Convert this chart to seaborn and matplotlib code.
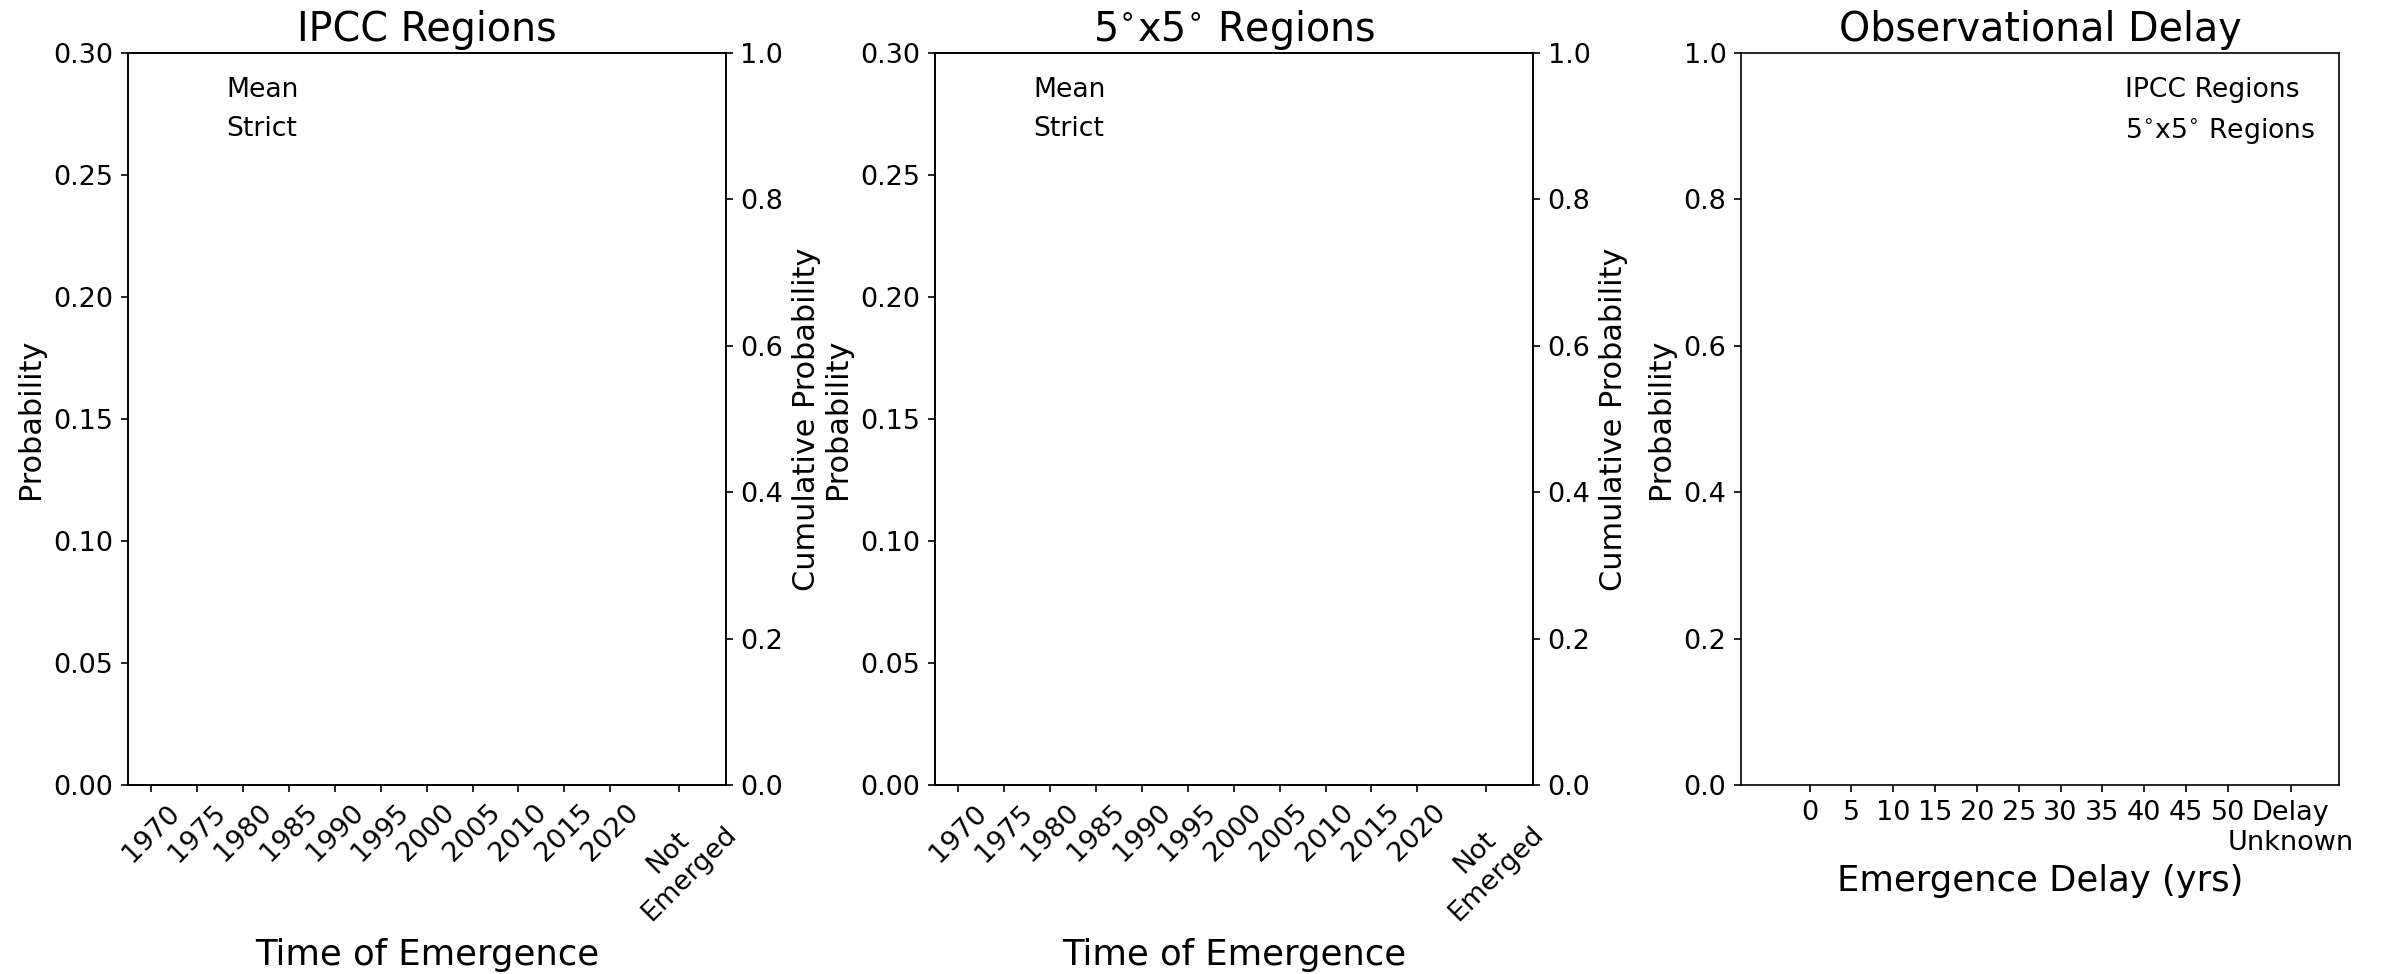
import numpy as np
import pandas as pd
import matplotlib
matplotlib.use("Agg")
import matplotlib.pyplot as plt
from matplotlib.lines import Line2D
import seaborn as sns

# ---- data (the reference panels contain no drawn marks) ----
toe_years = [1970, 1975, 1980, 1985, 1990, 1995, 2000, 2005, 2010, 2015, 2020]
toe_not_emerged_pos = 2027.5
toe_labels = [str(y) for y in toe_years] + ["Not\nEmerged"]
delay_years = [0, 5, 10, 15, 20, 25, 30, 35, 40, 45, 50]
delay_unknown_pos = 57.5
delay_labels = [str(d) for d in delay_years] + ["Delay\nUnknown"]
toe_series = ["Mean", "Strict"]
delay_series = ["IPCC Regions", r"5$^{\circ}$x5$^{\circ}$ Regions"]
panel_titles = ["IPCC Regions", r"5$^{\circ}$x5$^{\circ}$ Regions", "Observational Delay"]
mean_values = []      # no visible bars in the reference
strict_values = []
ipcc_delay_values = []
grid_delay_values = []

sns.set_theme(style="ticks", rc={
    "axes.edgecolor": "black", "xtick.color": "black", "ytick.color": "black",
    "axes.labelcolor": "black", "text.color": "black", "axes.linewidth": 0.8,
    "xtick.major.width": 0.8, "ytick.major.width": 0.8,
    "xtick.major.size": 3.5, "ytick.major.size": 3.5,
})
plt.rcParams["font.family"] = ["DejaVu Sans"]

fig = plt.figure(figsize=(2387 / 150, 974 / 150), dpi=150)
W = 0.2505
lefts = [0.0536, 0.3917, 0.7294]
bottom, height = 0.194, 0.7515

TICK = 13
LAB = 14.5
BIG = 17
TITLE = 19
LEG = 12.8

def blank_handles(n):
    return [Line2D([], [], linestyle="none", marker=None) for _ in range(n)]

for i in range(2):
    ax = fig.add_axes([lefts[i], bottom, W, height])
    vals = mean_values if i == 0 else strict_values
    sns.lineplot(x=np.array(vals, dtype=float), y=np.array(vals, dtype=float), ax=ax)
    ax.set_xlim(1967.45, 2032.6)
    ax.set_ylim(0, 0.30)
    ax.set_xticks(toe_years + [toe_not_emerged_pos])
    ax.set_xticklabels(toe_labels, rotation=45, fontsize=TICK)
    ax.set_yticks([0, 0.05, 0.10, 0.15, 0.20, 0.25, 0.30])
    ax.set_yticklabels([f"{v:.2f}" for v in [0, 0.05, 0.10, 0.15, 0.20, 0.25, 0.30]], fontsize=TICK)
    ax.set_ylabel("Probability", fontsize=LAB)
    ax.set_xlabel("Time of Emergence", fontsize=BIG, labelpad=6)
    ax.set_title(panel_titles[i], fontsize=TITLE)
    ax.legend(blank_handles(2), toe_series, loc="upper left", frameon=False, fontsize=LEG)
    ax2 = ax.twinx()
    ax2.set_ylim(0, 1)
    ax2.set_yticks([0, 0.2, 0.4, 0.6, 0.8, 1.0])
    ax2.set_yticklabels([f"{v:.1f}" for v in [0, 0.2, 0.4, 0.6, 0.8, 1.0]], fontsize=TICK)
    ax2.set_ylabel("Cumulative Probability", fontsize=LAB)
    for a in (ax, ax2):
        for s in a.spines.values():
            s.set_visible(True)

ax = fig.add_axes([lefts[2], bottom, W, height])
sns.lineplot(x=np.array(ipcc_delay_values, dtype=float), y=np.array(grid_delay_values, dtype=float), ax=ax)
ax.set_xlim(-8.2, 63.3)
ax.set_ylim(0, 1)
ax.set_xticks(delay_years + [delay_unknown_pos])
ax.set_xticklabels(delay_labels, fontsize=TICK)
ax.set_yticks([0, 0.2, 0.4, 0.6, 0.8, 1.0])
ax.set_yticklabels([f"{v:.1f}" for v in [0, 0.2, 0.4, 0.6, 0.8, 1.0]], fontsize=TICK)
ax.set_ylabel("Probability", fontsize=LAB)
ax.set_xlabel("Emergence Delay (yrs)", fontsize=BIG)
ax.set_title(panel_titles[2], fontsize=TITLE)
ax.legend(blank_handles(2), delay_series, loc="upper right", frameon=False, fontsize=LEG)
for s in ax.spines.values():
    s.set_visible(True)

fig.savefig("out.png", dpi=150)
